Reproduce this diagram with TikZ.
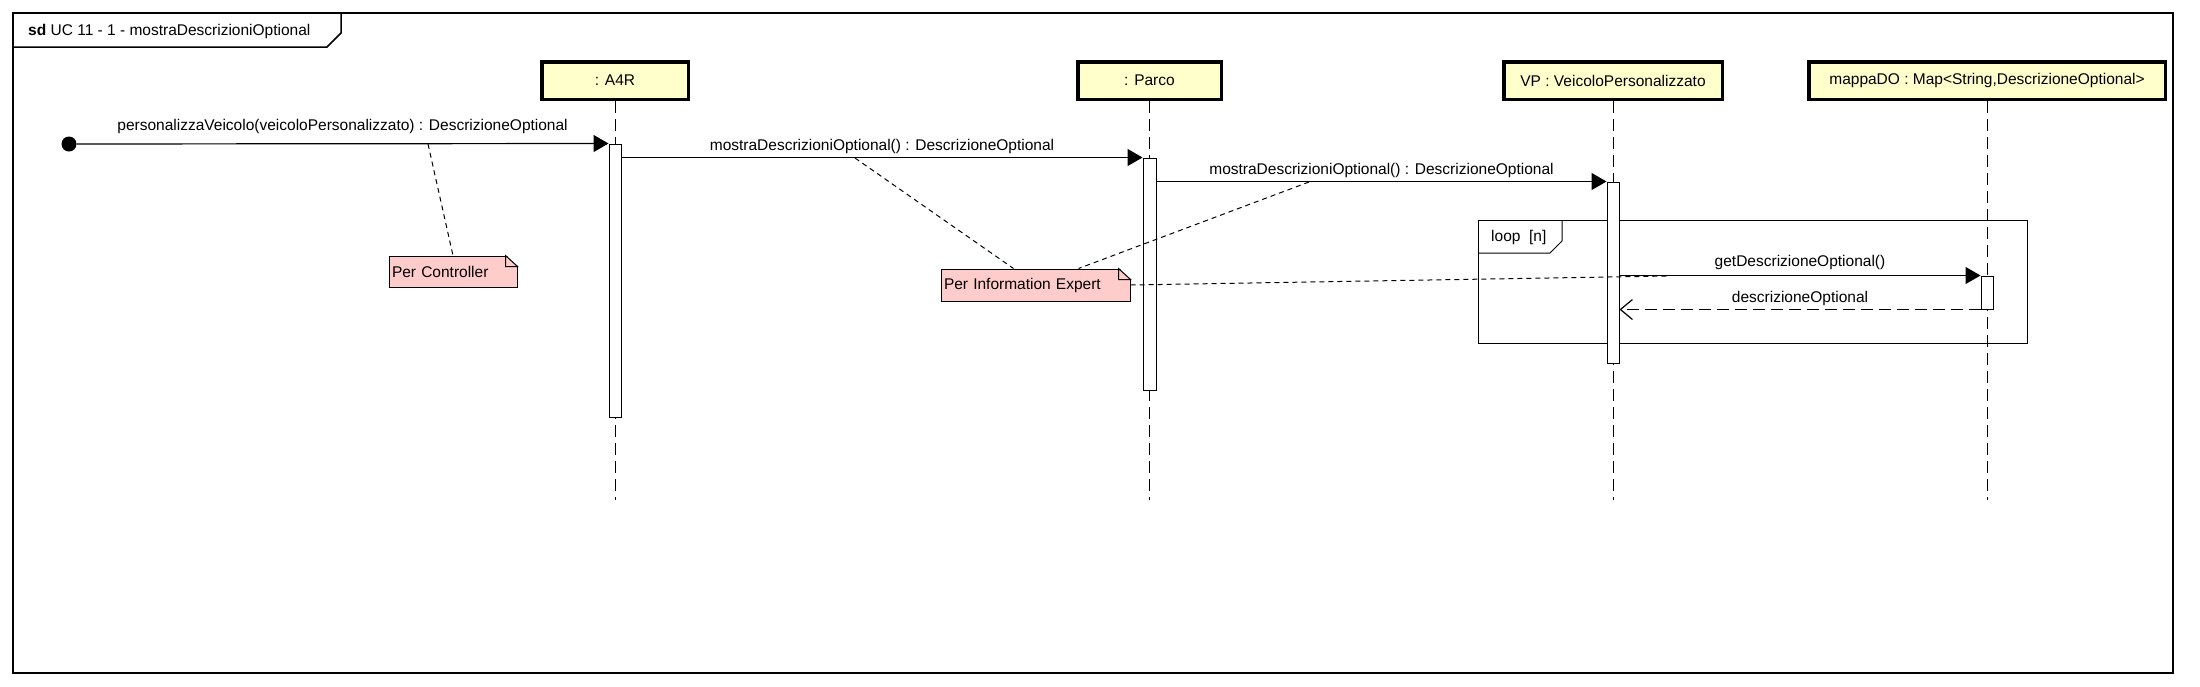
\documentclass[tikz,border=0pt]{standalone}
\usepackage{fontspec}
\setmainfont{Liberation Sans}
\usepackage{xcolor}
\usepackage{tikz}
\usetikzlibrary{positioning, arrows.meta}
\definecolor{objyellow}{RGB}{255,255,204}
\definecolor{notepink}{RGB}{255,204,204}
\begin{document}
\begin{tikzpicture}[x=1pt,y=-1pt,inner sep=0pt,font=\fontsize{15.5}{18}\selectfont]
	\tikzstyle{object}=[draw=black,line width=3.5pt,fill=objyellow,minimum height=37.5pt]
	\tikzstyle{activation}=[draw=black,line width=1pt,fill=white,minimum width=12pt]
	\tikzstyle{note}=[draw=black,line width=1pt,fill=notepink,align=left,inner xsep=3pt]
	\tikzstyle{lifeline}=[line width=1pt,dash pattern=on 12pt off 6pt]
	\tikzstyle{call}=[line width=1.2pt,-{Triangle[length=15pt,width=17pt]}]
	\tikzstyle{reply}=[line width=1.2pt,dash pattern=on 12pt off 6pt,-{Straight Barb[length=12pt,width=20pt]}]
	\tikzstyle{anchorline}=[line width=1pt,dash pattern=on 5pt off 4pt]
	\useasboundingbox (0,0) rectangle (2200,686);
	\draw[line width=1.5pt] (13,13) rectangle (2173,673);
	\draw[line width=1.5pt] (13,47) -- (327,47) -- (341,33) -- (341,13);
	\node[anchor=west](sd) at (28,31) {\textbf{sd} UC 11 - 1 - mostraDescrizioniOptional};
	\draw[line width=1pt] (1478,220) rectangle (2027,343);
	\draw[line width=1pt] (1478,253) -- (1550,253) -- (1562,241) -- (1562,220);
	\node[anchor=west](lp) at (1491,237) {loop\ \ [n]};
	\node[object,minimum width=146.5pt](o1) at (615,80.5) {: A4R};
	\node[object,minimum width=143.5pt](o2) at (1149.5,80.5) {: Parco};
	\node[object,minimum width=218.5pt](o3) at (1613,80.5) {VP : VeicoloPersonalizzato};
	\node[object,minimum width=356.5pt](o4) at (1987,80.5) {mappaDO : Map<String,DescrizioneOptional>};
	\coordinate (e1) at (o1.south |- 0,500);
	\coordinate (e2) at (o2.south |- 0,500);
	\coordinate (e3) at (o3.south |- 0,500);
	\coordinate (e4) at (o4.south |- 0,500);
	\path[lifeline]
		(o1) edge (e1)
		(o2) edge (e2)
		(o3) edge (e3)
		(o4) edge (e4);
	\node[activation,minimum height=273pt](a1) at (615,280.5) {};
	\node[activation,minimum width=13pt,minimum height=232pt](a2) at (1149.5,274) {};
	\node[activation,minimum height=181pt](a3) at (1613,272.5) {};
	\node[activation,minimum height=33pt](a4) at (1987,292.5) {};
	\node[circle,fill=black,minimum size=15pt](s) at (69,144) {};
	\path[call]
		(s) edge node[above=9pt]{personalizzaVeicolo(veicoloPersonalizzato) : DescrizioneOptional} (a1.north west)
		(a1.east |- a2.north) edge node[above=3pt]{mostraDescrizioniOptional() : DescrizioneOptional} (a2.north west)
		(a2.east |- a3.north) edge node[above=3pt]{mostraDescrizioniOptional() : DescrizioneOptional} (a3.north west)
		(a3.east |- a4.north) edge node[above=5pt]{getDescrizioneOptional()} (a4.north west);
	\path[reply]
		(a4.south west) edge node[above=3pt]{descrizioneOptional} (a3.east |- a4.south);
	\node[note,text width=122pt,minimum height=31pt](n1) at (453,271.5) {Per Controller};
	\node[note,text width=183pt,minimum height=32pt](n2) at (1035.5,285) {Per Information Expert};
	\foreach \n in {n1,n2}{
		\fill[white] ([xshift=-12pt,yshift=1pt]\n.north east) -- ([xshift=1pt,yshift=1pt]\n.north east) -- ([xshift=1pt,yshift=-11pt]\n.north east) -- cycle;
		\draw[line width=1pt] ([xshift=-12pt]\n.north east) -- ([yshift=-11pt]\n.north east) -- ([xshift=-12pt,yshift=-11pt]\n.north east) -- cycle;
	}
	\coordinate (k1) at (428,144);
	\coordinate (k2) at (855,158);
	\coordinate (k3) at (1309,182);
	\coordinate (k4) at (1668,276);
	\path[anchorline]
		(k1) edge (n1.north)
		(k2) edge ([xshift=-22pt]n2.north)
		(k3) edge ([xshift=43pt]n2.north)
		(n2.east) edge (k4);
\end{tikzpicture}
\end{document}
